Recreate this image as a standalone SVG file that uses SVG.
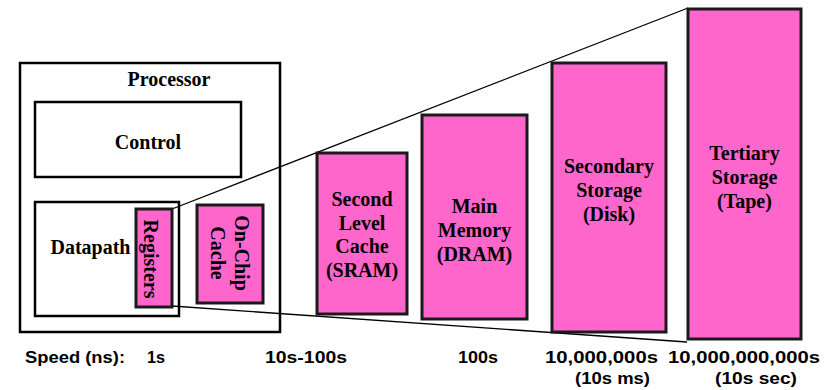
<svg xmlns="http://www.w3.org/2000/svg" width="836" height="390" viewBox="0 0 836 390">
<style>
.box{fill:#ffffff;stroke:#000;stroke-width:2.5}
.pink{fill:#FF66CC;stroke:#1a1a1a;stroke-width:3}
.t{font-family:"Liberation Serif","Times New Roman",serif;font-weight:bold;font-size:20px;fill:#000;text-anchor:middle}
.s{font-family:"Comic Sans MS","Liberation Sans",Arial,sans-serif;font-weight:bold;font-size:17px;fill:#000}
.ln{stroke:#000;stroke-width:1.3;fill:none}
</style>
<rect width="836" height="390" fill="#fff"/>
<g id="processor">
<rect class="box" x="20" y="63" width="260" height="269"/>
<text class="t" x="169" y="86">Processor</text>
</g>
<g id="control">
<rect class="box" x="35" y="102" width="206" height="75"/>
<text class="t" x="148" y="149">Control</text>
</g>
<g id="datapath">
<rect class="box" x="35" y="202" width="144" height="114"/>
<text class="t" x="90.5" y="254">Datapath</text>
</g>
<g id="connectors">
<line class="ln" x1="172" y1="209" x2="688" y2="8"/>
<line class="ln" x1="172" y1="306" x2="687" y2="342"/>
</g>
<g id="registers">
<rect class="pink" x="136" y="209" width="36" height="98"/>
<text class="t" transform="translate(154,259) rotate(90)" x="0" y="10">Registers</text>
</g>
<g id="onchip-cache">
<rect class="pink" x="197" y="205" width="66" height="98"/>
<g transform="translate(229.5,253) rotate(90)">
<text class="t" x="0" y="-5.5">On-Chip</text>
<text class="t" x="0" y="18.5">Cache</text>
</g>
</g>
<g id="l2-cache">
<rect class="pink" x="317" y="153" width="90" height="161"/>
<text class="t" x="362" y="206">Second</text>
<text class="t" x="362" y="229.5">Level</text>
<text class="t" x="362" y="253">Cache</text>
<text class="t" x="362" y="276.5">(SRAM)</text>
</g>
<g id="main-memory">
<rect class="pink" x="422" y="115" width="105" height="204"/>
<text class="t" x="474.5" y="213">Main</text>
<text class="t" x="474.5" y="237">Memory</text>
<text class="t" x="474.5" y="261">(DRAM)</text>
</g>
<g id="secondary-storage">
<rect class="pink" x="552" y="63" width="114" height="269"/>
<text class="t" x="609" y="173">Secondary</text>
<text class="t" x="609" y="197">Storage</text>
<text class="t" x="609" y="221">(Disk)</text>
</g>
<g id="tertiary-storage">
<rect class="pink" x="688" y="9" width="113" height="330"/>
<text class="t" x="744.5" y="160">Tertiary</text>
<text class="t" x="744.5" y="184">Storage</text>
<text class="t" x="744.5" y="208">(Tape)</text>
</g>
<g id="speeds">
<text class="s" x="25" y="363" textLength="100" lengthAdjust="spacingAndGlyphs">Speed (ns):</text>
<text class="s" x="147" y="363" textLength="18" lengthAdjust="spacingAndGlyphs">1s</text>
<text class="s" x="265" y="363" textLength="82" lengthAdjust="spacingAndGlyphs">10s-100s</text>
<text class="s" x="458" y="363" textLength="40" lengthAdjust="spacingAndGlyphs">100s</text>
<text class="s" x="545" y="363" textLength="113" lengthAdjust="spacingAndGlyphs">10,000,000s</text>
<text class="s" x="575" y="384" textLength="75" lengthAdjust="spacingAndGlyphs">(10s ms)</text>
<text class="s" x="668" y="363" textLength="152" lengthAdjust="spacingAndGlyphs">10,000,000,000s</text>
<text class="s" x="715" y="384" textLength="82" lengthAdjust="spacingAndGlyphs">(10s sec)</text>
</g>
</svg>
